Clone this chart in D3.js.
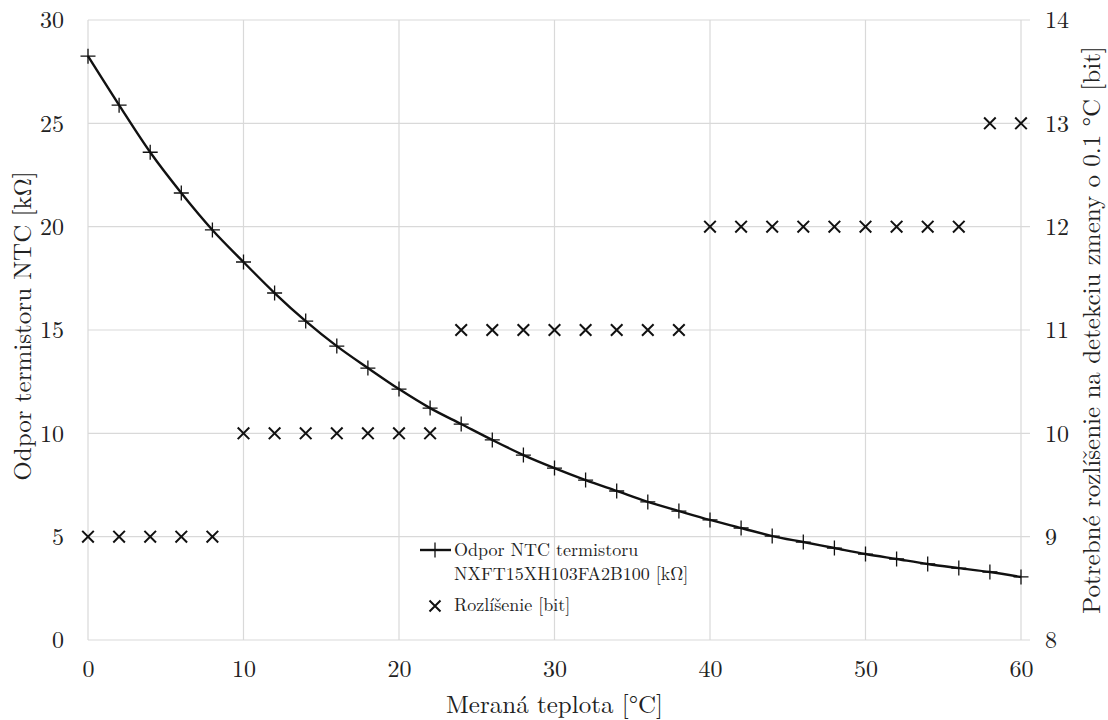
<!DOCTYPE html>
<html><head><meta charset="utf-8">
<script src="https://cdn.jsdelivr.net/npm/d3@7"></script>
<style>body{margin:0;background:#fff}svg{display:block}</style>
</head><body><svg id="c" width="1108" height="720"></svg>
<script>
const temps = [0,2,4,6,8,10,12,14,16,18,20,22,24,26,28,30,32,34,36,38,40,42,44,46,48,50,52,54,56,58,60];
const resistance = [28.25,25.88,23.6,21.63,19.84,18.29,16.79,15.43,14.22,13.16,12.14,11.22,10.45,9.68,8.95,8.32,7.74,7.21,6.68,6.24,5.81,5.42,5.03,4.74,4.45,4.16,3.92,3.68,3.48,3.29,3.05];
const resolution = [9,9,9,9,9,10,10,10,10,10,10,10,11,11,11,11,11,11,11,11,12,12,12,12,12,12,12,12,12,13,13];
const xTicks = [0,10,20,30,40,50,60];
const yLeftTicks = [0,5,10,15,20,25,30];
const yRightTicks = [8,9,10,11,12,13,14];
const labels = {x:"Meraná teplota [°C]", yl:"Odpor termistoru NTC [kΩ]", yr:"Potrebné rozlíšenie na detekciu zmeny o 0.1 °C [bit]",
  s1a:"Odpor NTC termistoru", s1b:"NXFT15XH103FA2B100 [kΩ]", s2:"Rozlíšenie [bit]"};

const FONT = '"Latin Modern Roman","Liberation Serif",serif';
const svg = d3.select("#c");
const L=88,R=1021,T=20,B=640;
const x = d3.scaleLinear().domain([0,60]).range([L,R]);
const yl = d3.scaleLinear().domain([0,30]).range([B,T]);
const yr = d3.scaleLinear().domain([8,14]).range([B,T]);
const grid="#d9d9d9";

svg.append("g").selectAll("line").data(yLeftTicks).join("line")
  .attr("x1",L).attr("x2",R+9).attr("y1",d=>yl(d)).attr("y2",d=>yl(d)).attr("stroke",grid).attr("stroke-width",1.2);
svg.append("g").selectAll("line").data(xTicks).join("line")
  .attr("x1",d=>x(d)).attr("x2",d=>x(d)).attr("y1",T).attr("y2",B).attr("stroke",grid).attr("stroke-width",1.2);

const ax = svg.append("g").attr("transform",`translate(0,${B})`).call(d3.axisBottom(x).tickValues(xTicks).tickSize(0).tickPadding(20));
const ayl = svg.append("g").attr("transform",`translate(${L},0)`).call(d3.axisLeft(yl).tickValues(yLeftTicks).tickSize(0).tickPadding(24));
const ayr = svg.append("g").attr("transform",`translate(${R},0)`).call(d3.axisRight(yr).tickValues(yRightTicks).tickFormat(d3.format("d")).tickSize(0).tickPadding(24));
[ax,ayl,ayr].forEach(g=>{g.attr("font-family",null);g.select(".domain").remove();g.selectAll("text").style("font-family",FONT).style("font-size","24px").style("fill","#222");});

svg.append("path").datum(temps.map((t,i)=>[t,resistance[i]]))
  .attr("d",d3.line().x(d=>x(d[0])).y(d=>yl(d[1])).curve(d3.curveMonotoneX))
  .attr("fill","none").attr("stroke","#111").attr("stroke-width",2.4);

const plus=(g,cx,cy,s)=>{g.append("path").attr("d",`M${cx-s},${cy}H${cx+s}M${cx},${cy-s}V${cy+s}`).attr("stroke","#111").attr("stroke-width",1.3);};
const cross=(g,cx,cy,s)=>{g.append("path").attr("d",`M${cx-s},${cy-s}L${cx+s},${cy+s}M${cx-s},${cy+s}L${cx+s},${cy-s}`).attr("stroke","#111").attr("stroke-width",2);};
const gm = svg.append("g");
temps.forEach((t,i)=>plus(gm,x(t),yl(resistance[i]),7.5));
temps.forEach((t,i)=>cross(gm,x(t),yr(resolution[i]),5.8));

const txt=(sel,sz)=>sel.style("font-family",FONT).style("font-size",sz+"px").style("fill","#222");
txt(svg.append("text").attr("x",(L+R)/2).attr("y",713).attr("text-anchor","middle").text(labels.x),25);
txt(svg.append("text").attr("transform","translate(31,326) rotate(-90)").attr("text-anchor","middle").text(labels.yl),25);
txt(svg.append("text").attr("transform","translate(1100,330) rotate(-90)").attr("text-anchor","middle").text(labels.yr),25);

const lg = svg.append("g");
lg.append("line").attr("x1",420).attr("x2",451).attr("y1",550).attr("y2",550).attr("stroke","#111").attr("stroke-width",2.4);
plus(lg,435,550,7.5);
txt(lg.append("text").attr("x",454).attr("y",556).text(labels.s1a),18);
txt(lg.append("text").attr("x",454).attr("y",580).text(labels.s1b),18);
cross(lg,435,606,5.5);
txt(lg.append("text").attr("x",454).attr("y",611).text(labels.s2),18);
</script></body></html>
